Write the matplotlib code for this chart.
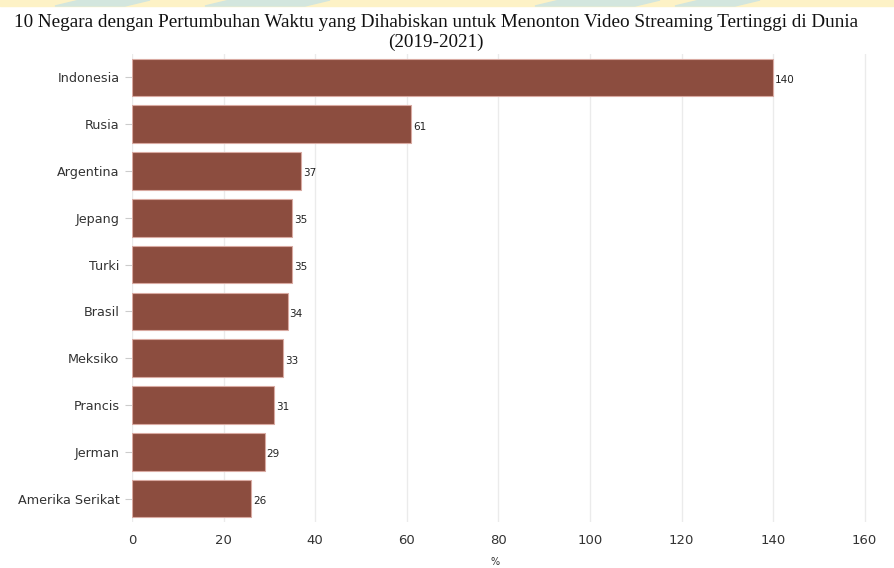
import matplotlib.pyplot as plt
from matplotlib.patches import Rectangle, Polygon

# Datos
negara = ['Indonesia', 'Rusia', 'Argentina', 'Jepang', 'Turki', 'Brasil',
          'Meksiko', 'Prancis', 'Jerman', 'Amerika Serikat']
pertumbuhan = [140, 61, 37, 35, 35, 34, 33, 31, 29, 26]
xticks = [0, 20, 40, 60, 80, 100, 120, 140, 160]

W, H = 894, 568
fig = plt.figure(figsize=(W / 100, H / 100), dpi=100)

# Pita dekoratif di atas (terpotong)
fig.patches.append(Rectangle((0, 1 - 6 / H), 1, 6 / H, transform=fig.transFigure,
                             color='#fdf2c6', zorder=0))
for x0, x1 in [(80, 150), (230, 330), (560, 660), (700, 760)]:
    fig.patches.append(Polygon([(x0 / W, 1), (x1 / W, 1), ((x1 - 25) / W, 1 - 6 / H),
                                ((x0 - 25) / W, 1 - 6 / H)],
                               transform=fig.transFigure, color='#d3e6de', zorder=0))

ax = fig.add_axes([132 / W, 1 - 522 / H, (883 - 132) / W, (522 - 54) / H])

y = list(range(len(negara)))
ax.barh(y, pertumbuhan, height=0.8, color='#8c4d3f', edgecolor='#d9aaa2',
        linewidth=0.8, zorder=2)
for yi, v in zip(y, pertumbuhan):
    ax.text(v + 0.4, yi + 0.05, str(v), va='center', ha='left', fontsize=7.5,
            color='#222222', zorder=3)

ax.set_ylim(len(negara) - 0.5, -0.5)
ax.set_xlim(0, 164)
ax.set_yticks(y)
ax.set_yticklabels(negara, fontsize=9.2, color='#333333')
ax.set_xticks(xticks)
ax.set_xticklabels([str(t) for t in xticks], fontsize=9.5, color='#333333')
ax.tick_params(axis='y', length=5, color='#cccccc', pad=4)
ax.tick_params(axis='x', length=0, pad=9)
ax.grid(axis='x', color='#ebebeb', linewidth=1, zorder=0)
for s in ax.spines.values():
    s.set_visible(False)

fig.text(495 / W, 1 - 567 / H, '%', ha='center', va='bottom', fontsize=7, color='#333333')

fig.text(436 / W, 1 - 14 / H,
         '10 Negara dengan Pertumbuhan Waktu yang Dihabiskan untuk Menonton Video Streaming Tertinggi di Dunia\n(2019-2021)',
         ha='center', va='top', fontsize=13.8, family='Liberation Serif',
         linespacing=1.2, color='#111111')

fig.savefig('out.png', dpi=100)
